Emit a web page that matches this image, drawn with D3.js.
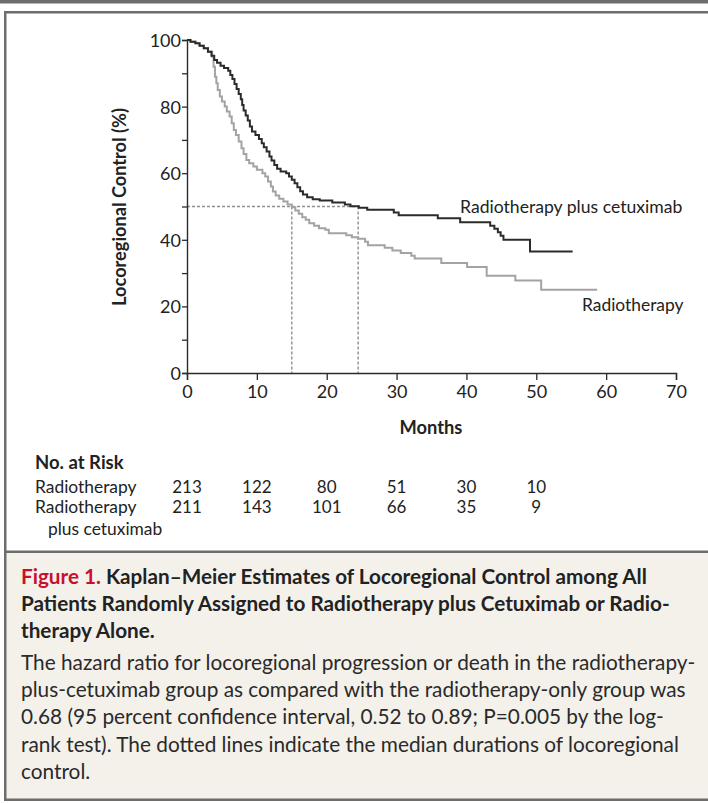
<!DOCTYPE html>
<html><head><meta charset="utf-8">
<script src="https://cdn.jsdelivr.net/npm/d3@7"></script>
<style>
html,body{margin:0;padding:0;background:#fff;}
svg text{font-family:Lato,"Open Sans",sans-serif;}
</style></head>
<body><svg id="c" width="708" height="803"></svg>
<script>
// ---- data ----
const cetuximabTimes = [0,0.5,1.2,1.8,2.4,3.0,3.5,3.9,4.3,4.8,5.3,5.9,6.2,6.5,6.8,7.1,7.4,7.7,7.9,8.1,8.4,8.7,9.0,9.3,9.8,10.3,10.7,11.0,11.4,11.8,12.1,12.5,12.9,13.4,14.2,14.6,15.0,15.4,15.8,16.2,16.6,17.2,18.0,19.0,20.8,22.6,23.4,24.6,25.8,29.6,30.3,35.9,39.1,43.4,44.0,44.5,44.9,45.3,49.1,55.2];
const cetuximabValues = [100,99.5,99,98.3,97.5,96.5,95.3,94.0,93.2,92.3,91.6,90.8,89.5,88.3,86.8,85.3,83.8,82.2,80.5,78.8,77.3,75.8,74.0,72.5,71.5,70.3,69.0,67.8,66.5,65.0,63.8,62.5,61.3,60.5,60.0,59.0,58.0,57.0,55.8,54.6,53.6,52.8,52.2,51.8,51.2,50.6,50.1,49.6,49.0,48.2,47.4,46.5,45.3,44.2,43.3,42.3,41.2,40.0,36.5,36.5];
const radioTimes = [0,0.5,1.2,1.8,2.4,3.0,3.6,3.8,4.0,4.2,4.4,4.7,5.0,5.4,5.7,6.1,6.4,6.7,7.0,7.4,7.8,8.1,8.5,8.9,9.5,10.0,10.8,11.2,11.6,12.0,12.3,12.7,13.2,13.8,14.4,15.0,15.5,16.0,16.5,17.0,17.5,18.2,18.9,19.8,20.3,22.8,23.6,24.5,25.5,25.9,28.3,29.4,30.6,32.1,32.6,36.4,40.1,42.9,47.0,50.7,58.7];
const radioValues = [100,99.5,99,98.3,97.5,96.5,95.0,92.0,89.0,87.0,85.0,83.0,81.5,80.0,78.5,77.0,75.0,73.0,71.5,69.5,67.5,65.8,64.0,63.0,62.0,61.0,60.0,59.0,57.5,56.0,54.5,53.3,52.3,51.5,50.6,49.8,48.8,47.8,46.8,46.0,45.0,44.2,43.5,43.0,42.0,41.4,40.8,40.3,39.4,38.4,37.6,36.8,36.0,35.2,34.4,33.0,31.8,29.2,27.8,25.0,25.0];
const medianCetuximab = 24.5;
const medianRadio = 15.0;
const xTicks = [0,10,20,30,40,50,60,70];
const yMajorTicks = [0,20,40,60,80,100];
const yMinorTicks = [10,30,50,70,90];
const riskTimes = [0,10,20,30,40,50];
const riskRadio = [213,122,80,51,30,10];
const riskCetuximab = [211,143,101,66,35,9];

const svg = d3.select("#c");
// frame
svg.append("rect").attr("x",0).attr("y",0).attr("width",708).attr("height",3.5).attr("fill","#6d6d6d");
svg.append("rect").attr("x",5).attr("y",552).attr("width",703).attr("height",247).attr("fill","#f4f1eb");
svg.append("rect").attr("x",4).attr("y",11).attr("width",704).attr("height",2.5).attr("fill","#6d6d6d");
svg.append("rect").attr("x",4).attr("y",11).attr("width",2.5).attr("height",790).attr("fill","#6d6d6d");
svg.append("rect").attr("x",4).attr("y",550.5).attr("width",704).attr("height",2.5).attr("fill","#6d6d6d");
svg.append("rect").attr("x",4).attr("y",798.5).attr("width",704).attr("height",2.5).attr("fill","#6d6d6d");

const x = d3.scaleLinear().domain([0,70]).range([187,676]);
const y = d3.scaleLinear().domain([0,100]).range([373,40]);
const ink = "#2b2b2b";

// dashed median lines
const dash = svg.append("g").attr("stroke","#8f8f8f").attr("stroke-width",1.4).attr("stroke-dasharray","3,2").attr("fill","none");
dash.append("line").attr("x1",x(0)).attr("x2",x(medianCetuximab)).attr("y1",y(50)).attr("y2",y(50));
dash.append("line").attr("x1",x(medianRadio)).attr("x2",x(medianRadio)).attr("y1",y(50)).attr("y2",y(0));
dash.append("line").attr("x1",x(medianCetuximab)).attr("x2",x(medianCetuximab)).attr("y1",y(50)).attr("y2",y(0));

// curves
const line = d3.line().x(d=>x(d[0])).y(d=>y(d[1])).curve(d3.curveStepAfter);
svg.append("path").datum(d3.zip(radioTimes,radioValues)).attr("d",line).attr("fill","none").attr("stroke","#a3a3a3").attr("stroke-width",2);
svg.append("path").datum(d3.zip(cetuximabTimes,cetuximabValues)).attr("d",line).attr("fill","none").attr("stroke",ink).attr("stroke-width",2);

// axes
const xAxis = svg.append("g").attr("transform",`translate(0,${y(0)})`)
  .call(d3.axisBottom(x).tickValues(xTicks).tickSize(7).tickPadding(5));
const yAxis = svg.append("g").attr("transform",`translate(${x(0)},0)`)
  .call(d3.axisLeft(y).tickValues(yMajorTicks).tickSize(5).tickPadding(1));
svg.append("g").attr("transform",`translate(${x(0)},0)`)
  .call(d3.axisLeft(y).tickValues(yMinorTicks).tickSize(5).tickFormat(""))
  .call(g=>g.select(".domain").remove());
svg.selectAll(".domain").attr("stroke",ink).attr("stroke-width",1.4);
svg.selectAll(".tick line").attr("stroke",ink).attr("stroke-width",1.3);
svg.selectAll(".tick text").attr("fill","#222").style("font-size","18px").style("font-family","Lato,sans-serif");
yAxis.selectAll(".tick text").attr("dy","0.36em");

// axis titles
svg.append("text").attr("x",431).attr("y",434).attr("text-anchor","middle")
  .style("font-size","18.3px").style("font-weight","bold").attr("fill","#222").text("Months");
svg.append("text").attr("transform","translate(126,207) rotate(-90)").attr("text-anchor","middle")
  .style("font-size","18.2px").style("font-weight","bold").attr("fill","#222").text("Locoregional Control (%)");

// series labels
svg.append("text").attr("x",460).attr("y",213).style("font-size","17.6px").attr("fill","#222").text("Radiotherapy plus cetuximab");
svg.append("text").attr("x",582).attr("y",311).style("font-size","17.4px").attr("fill","#222").text("Radiotherapy");

// number at risk
svg.append("text").attr("x",35).attr("y",469).style("font-size","18.5px").style("font-weight","bold").attr("fill","#222").text("No. at Risk");
svg.append("text").attr("x",35).attr("y",493).style("font-size","17.4px").attr("fill","#222").text("Radiotherapy");
svg.append("text").attr("x",35).attr("y",513).style("font-size","17.4px").attr("fill","#222").text("Radiotherapy");
svg.append("text").attr("x",48).attr("y",535).style("font-size","17.4px").attr("fill","#222").text("plus cetuximab");
svg.append("g").selectAll("text").data(d3.zip(riskTimes,riskRadio)).join("text")
  .attr("x",d=>x(d[0])).attr("y",493).attr("text-anchor","middle").style("font-size","17px").attr("fill","#222").text(d=>d[1]);
svg.append("g").selectAll("text").data(d3.zip(riskTimes,riskCetuximab)).join("text")
  .attr("x",d=>x(d[0])).attr("y",513).attr("text-anchor","middle").style("font-size","17px").attr("fill","#222").text(d=>d[1]);

// caption
const titleLines = [
  [["Figure 1. ","#c8102e"],["Kaplan\u2013Meier Estimates of Locoregional Control among All","#222"]],
  [["Patients Randomly Assigned to Radiotherapy plus Cetuximab or Radio-","#222"]],
  [["therapy Alone.","#222"]]
];
titleLines.forEach((ln,i)=>{
  const t = svg.append("text").attr("x",21).attr("y",584+i*27).style("font-size","20.7px").style("font-weight","bold");
  ln.forEach(p=>t.append("tspan").attr("fill",p[1]).text(p[0]));
});
const bodyLines = [
  "The hazard ratio for locoregional progression or death in the radiotherapy-",
  "plus-cetuximab group as compared with the radiotherapy-only group was",
  "0.68 (95 percent confidence interval, 0.52 to 0.89; P=0.005 by the log-",
  "rank test). The dotted lines indicate the median durations of locoregional",
  "control."
];
bodyLines.forEach((s,i)=>{
  svg.append("text").attr("x",21).attr("y",670+i*27.2).style("font-size","20.8px").attr("fill","#2a2a2a").text(s);
});
</script></body></html>
